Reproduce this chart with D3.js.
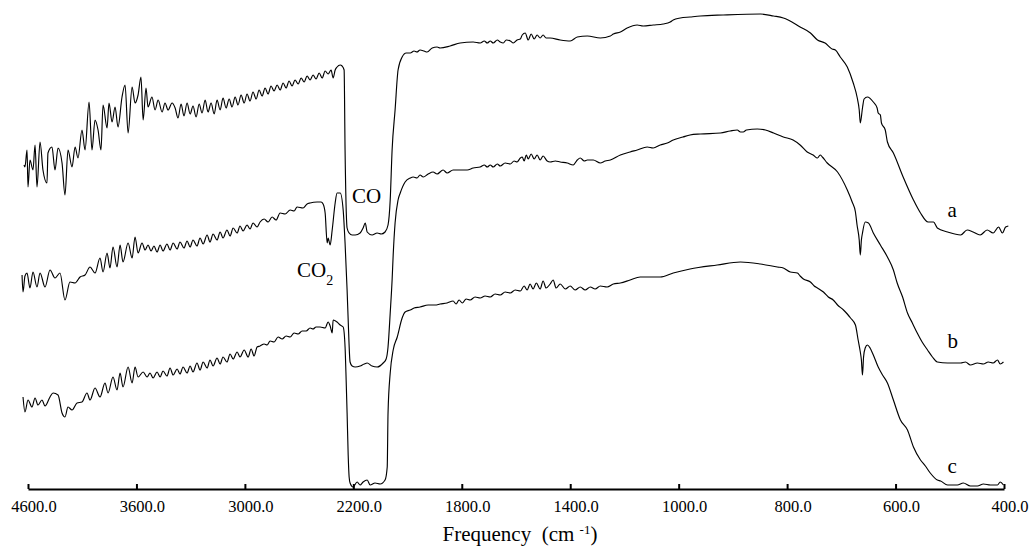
<!DOCTYPE html>
<html>
<head>
<meta charset="utf-8">
<script src="https://cdn.jsdelivr.net/npm/d3@7/dist/d3.min.js"></script>
<style>
  body { margin: 0; background: #fff; }
  svg, svg text { font-family: "Liberation Serif", "Times New Roman", Times, "DejaVu Serif", serif; }
</style>
</head>
<body>
<div id="chart"></div>
<script>
var width = 1034;
var height = 550;
var serif = "'Liberation Serif', 'Times New Roman', Times, 'DejaVu Serif', serif";

// axis breaks: the spectrometer plot uses equal spacing between these labelled wavenumbers
var tickValues = [4600, 3600, 3000, 2200, 1800, 1400, 1000, 800, 600, 400];

// [wavenumber cm-1, transmittance (a.u., stacked offsets)]
var seriesA = [
  [4637,325],[4628,323],[4609,340],[4600,303],[4582,330],[4554,320],[4535,345],[4517,303],[4489,348],[4462,320],
  [4425,307],[4416,337],[4379,343],[4351,320],[4323,342],[4286,327],[4259,295],[4231,340],[4194,323],[4166,343],
  [4139,332],[4102,360],[4074,340],[4037,388],[4010,340],[3982,370],[3954,360],[3927,340],[3908,385],[3871,362],
  [3853,387],[3825,368],[3797,383],[3770,363],[3733,393],[3705,405],[3677,357],[3640,403],[3613,387],[3591,395],
  [3575,413],[3563,370],[3547,402],[3536,383],[3514,393],[3497,380],[3480,390],[3458,378],[3442,387],[3425,380],
  [3403,387],[3386,382],[3370,372],[3353,386],[3337,374],[3320,387],[3303,376],[3287,384],[3270,373],[3253,386],
  [3237,377],[3220,390],[3204,378],[3187,387],[3170,376],[3154,390],[3137,380],[3121,392],[3104,382],[3087,391],
  [3071,383],[3054,393],[3038,385],[3021,395],[3004,387],[2984,396],[2962,389],[2940,398],[2917,391],[2895,400],
  [2873,394],[2851,402],[2829,396],[2807,404],[2785,399],[2762,405],[2740,400],[2718,407],[2696,402],[2674,409],
  [2652,404],[2630,410],[2607,406],[2585,412],[2563,408],[2541,414],[2519,410],[2497,415],[2475,411],[2452,417],
  [2430,412],[2408,419],[2386,416],[2364,420],[2349,412],[2334,420],[2320,423],[2297,425],[2283,424],[2268,420],
  [2261,340],[2246,262],[2231,257],[2209,255],[2193,255],[2175,257],[2164,262],[2156,267],[2149,258],[2131,255],
  [2112,257],[2097,256],[2083,258],[2072,265],[2064,290],[2057,340],[2046,380],[2035,420],[2020,433],[2005,437],
  [1990,437],[1976,439],[1965,438],[1954,440],[1939,439],[1928,438],[1909,442],[1891,443],[1880,442],[1843,444],
  [1806,447],[1758,448],[1732,447],[1717,449],[1706,447],[1695,449],[1684,447],[1669,450],[1658,448],[1647,447],
  [1636,450],[1621,449],[1610,447],[1596,450],[1584,451],[1577,455],[1566,457],[1555,450],[1544,456],[1533,451],
  [1522,455],[1511,452],[1500,455],[1489,452],[1474,452],[1437,450],[1400,449],[1374,453],[1337,454],[1289,452],
  [1252,454],[1241,456],[1215,458],[1190,462],[1153,465],[1131,464],[1094,465],[1057,466],[1031,468],[1020,470],
  [997,472],[979,473],[960,474],[918,475],[849,476],[825,474],[807,472],[798,470],[776,463],[757,457],
  [744,450],[730,447],[717,441],[711,440],[702,433],[689,423],[678,407],[671,393],[667,380],[665,367],
  [661,382],[658,391],[652,393],[641,388],[634,382],[632,377],[628,375],[626,367],[619,360],[615,348],
  [604,337],[586,313],[567,290],[554,277],[540,268],[530,268],[523,262],[504,258],[480,255],[468,260],
  [457,258],[444,255],[431,260],[420,257],[410,263],[403,257],[397,263],[392,264]
];

var seriesB = [
  [4655,215],[4646,198],[4628,214],[4609,217],[4582,202],[4554,218],[4517,203],[4489,217],[4443,203],[4397,220],
  [4351,212],[4305,217],[4259,190],[4213,208],[4166,207],[4120,213],[4074,215],[4028,223],[3982,217],[3936,232],
  [3908,218],[3871,237],[3844,222],[3816,243],[3779,223],[3751,245],[3724,228],[3677,247],[3640,232],[3613,253],
  [3591,237],[3569,247],[3552,240],[3536,245],[3519,239],[3503,244],[3486,238],[3469,245],[3453,239],[3431,246],
  [3414,240],[3397,247],[3375,241],[3359,248],[3337,242],[3320,249],[3303,243],[3287,250],[3265,244],[3248,252],
  [3231,246],[3209,255],[3193,248],[3176,256],[3154,250],[3137,258],[3121,252],[3099,260],[3082,254],[3065,262],
  [3043,257],[3027,264],[3010,259],[2984,265],[2962,261],[2940,267],[2910,263],[2888,268],[2858,271],[2829,268],
  [2799,273],[2770,270],[2740,277],[2703,276],[2666,280],[2637,279],[2615,283],[2571,282],[2541,286],[2519,287],
  [2467,288],[2438,288],[2423,286],[2408,277],[2393,247],[2386,252],[2371,245],[2356,260],[2334,287],[2320,297],
  [2297,297],[2275,280],[2261,247],[2246,200],[2238,170],[2224,128],[2209,124],[2193,123],[2175,124],[2160,126],
  [2149,127],[2131,124],[2112,123],[2090,127],[2079,131],[2072,143],[2064,177],[2057,210],[2053,235],[2046,267],
  [2035,290],[2027,297],[2009,308],[1990,312],[1979,313],[1965,312],[1954,315],[1942,313],[1924,316],[1906,318],
  [1891,316],[1869,320],[1854,317],[1832,320],[1806,320],[1780,320],[1758,322],[1732,323],[1717,325],[1706,323],
  [1695,325],[1684,323],[1669,326],[1658,324],[1640,327],[1621,326],[1607,329],[1596,328],[1584,332],[1577,333],
  [1570,329],[1562,335],[1555,331],[1544,336],[1533,331],[1522,335],[1511,330],[1500,334],[1485,329],[1474,328],
  [1455,329],[1437,328],[1411,327],[1389,325],[1374,330],[1363,332],[1348,329],[1337,330],[1315,330],[1289,327],
  [1271,329],[1252,330],[1215,335],[1179,338],[1153,340],[1116,343],[1094,342],[1068,345],[1042,347],[1020,350],
  [992,353],[979,355],[960,356],[923,357],[905,359],[892,360],[886,358],[881,358],[875,360],[855,361],
  [840,360],[825,357],[807,353],[789,350],[776,345],[763,338],[752,335],[744,332],[739,335],[735,333],
  [726,327],[707,318],[689,300],[680,288],[674,278],[671,265],[667,250],[665,235],[663,250],[661,257],
  [656,268],[650,267],[641,257],[628,245],[615,233],[604,220],[597,207],[587,193],[578,177],[569,167],
  [560,157],[551,148],[541,140],[532,133],[523,128],[504,127],[480,127],[471,128],[462,125],[449,127],
  [438,126],[429,128],[420,127],[412,130],[407,126],[401,128]
];

var seriesC = [
  [4646,93],[4628,78],[4600,90],[4563,83],[4535,92],[4508,85],[4471,90],[4443,84],[4397,93],[4369,97],
  [4323,95],[4286,77],[4259,73],[4231,83],[4194,80],[4148,87],[4102,88],[4056,97],[4028,90],[3982,102],
  [3936,93],[3890,107],[3862,97],[3816,113],[3779,100],[3751,117],[3724,103],[3677,123],[3640,107],[3613,123],
  [3591,113],[3563,118],[3541,113],[3525,117],[3508,112],[3486,118],[3469,113],[3453,119],[3431,114],[3414,122],
  [3397,115],[3375,121],[3359,116],[3342,123],[3320,117],[3303,124],[3287,118],[3265,127],[3248,120],[3231,128],
  [3209,122],[3193,130],[3176,124],[3154,132],[3137,126],[3121,133],[3099,128],[3082,136],[3065,131],[3043,138],
  [3027,133],[3004,140],[2976,133],[2954,141],[2932,134],[2910,143],[2888,144],[2858,146],[2836,145],[2814,149],
  [2785,148],[2755,153],[2725,151],[2696,154],[2666,153],[2637,157],[2607,156],[2578,159],[2548,159],[2519,162],
  [2497,161],[2475,163],[2445,163],[2408,162],[2386,168],[2371,164],[2356,157],[2349,170],[2320,168],[2297,165],
  [2275,163],[2261,143],[2253,110],[2246,77],[2238,35],[2231,13],[2224,7],[2202,3],[2186,8],[2175,5],
  [2164,8],[2149,10],[2138,5],[2120,7],[2101,6],[2083,10],[2075,23],[2072,77],[2064,117],[2053,140],
  [2038,153],[2020,172],[2009,178],[1990,180],[1976,182],[1954,183],[1924,185],[1898,185],[1880,186],[1854,187],
  [1832,189],[1821,186],[1810,190],[1798,187],[1784,191],[1769,190],[1751,193],[1732,192],[1714,194],[1695,193],
  [1677,196],[1658,195],[1640,198],[1621,197],[1603,200],[1584,199],[1570,204],[1559,200],[1548,206],[1537,201],
  [1525,207],[1511,201],[1500,209],[1489,202],[1474,206],[1463,210],[1452,202],[1437,206],[1418,201],[1400,204],
  [1382,200],[1363,203],[1345,200],[1326,203],[1308,201],[1289,204],[1264,203],[1241,206],[1215,207],[1179,210],
  [1142,213],[1068,213],[1020,217],[979,221],[929,225],[886,228],[849,226],[818,223],[807,222],[794,218],
  [781,217],[776,214],[770,211],[757,208],[750,204],[744,202],[733,198],[724,193],[715,190],[707,185],
  [696,180],[689,176],[683,172],[674,165],[669,150],[665,138],[663,130],[661,115],[659,133],[656,142],
  [652,145],[647,142],[641,135],[632,123],[624,115],[615,107],[604,90],[591,70],[578,60],[567,43],
  [554,30],[545,24],[536,17],[523,10],[517,9],[504,5],[486,5],[475,7],[462,4],[449,4],
  [438,6],[425,5],[412,5],[407,8],[401,5]
];

var curveNames = ["a", "b", "c"];
var curveLabelPos = [[504, 273], [504, 142], [504, 17]];   // [wavenumber, value] of each letter
var bandLabels = ["CO", "CO2"];
var bandLabelPos = [[2210, 287], [2615, 213]];

var svg = d3.select("#chart").append("svg")
  .attr("width", width)
  .attr("height", height)
  .attr("font-family", serif);

var x = d3.scaleLinear()
  .domain(tickValues)
  .range(tickValues.map(function (d, i) { return 28 + i * (976 / (tickValues.length - 1)); }));

var y = d3.scaleLinear()
  .domain([0, 480])
  .range([490, 10]);

var line = d3.line()
  .x(function (d) { return x(d[0]); })
  .y(function (d) { return y(d[1]); })
  .curve(d3.curveMonotoneX);

svg.selectAll("path.spec")
  .data([seriesA, seriesB, seriesC])
  .enter()
  .append("path")
  .attr("class", "spec")
  .attr("d", line)
  .attr("fill", "none")
  .attr("stroke", "#000")
  .attr("stroke-width", 1.15);

// x axis
var xAxis = d3.axisBottom(x)
  .tickValues(tickValues)
  .tickSizeInner(-5)
  .tickSizeOuter(0)
  .tickFormat(d3.format(".1f"));

var gx = svg.append("g")
  .attr("transform", "translate(0,489)")
  .call(xAxis)
  .attr("font-family", serif)
  .attr("font-size", 16.5);

gx.select(".domain").attr("stroke", "#000").attr("stroke-width", 2);
gx.selectAll(".tick line").attr("stroke", "#000").attr("stroke-width", 2);
gx.selectAll(".tick text")
  .attr("y", 23)
  .attr("dy", 0)
  .attr("dx", "0.33em")
  .attr("fill", "#000");

// axis title
var title = svg.append("text")
  .attr("x", 520)
  .attr("y", 541)
  .attr("text-anchor", "middle")
  .attr("font-size", 21)
  .attr("xml:space", "preserve");
title.append("tspan").text("Frequency  (cm ");
title.append("tspan").attr("baseline-shift", "super").attr("font-size", 13).text("-1");
title.append("tspan").text(")");

// curve letters
svg.selectAll("text.curve")
  .data(curveNames)
  .enter()
  .append("text")
  .attr("class", "curve")
  .attr("x", function (d, i) { return x(curveLabelPos[i][0]); })
  .attr("y", function (d, i) { return y(curveLabelPos[i][1]); })
  .attr("font-size", 21)
  .text(function (d) { return d; });

// band labels
svg.append("text")
  .attr("x", x(bandLabelPos[0][0]))
  .attr("y", y(bandLabelPos[0][1]))
  .attr("font-size", 21)
  .text(bandLabels[0]);

var co2 = svg.append("text")
  .attr("x", x(bandLabelPos[1][0]))
  .attr("y", y(bandLabelPos[1][1]))
  .attr("font-size", 21);
co2.append("tspan").text("CO");
co2.append("tspan").attr("baseline-shift", "sub").attr("font-size", 14).text("2");
</script>
</body>
</html>
